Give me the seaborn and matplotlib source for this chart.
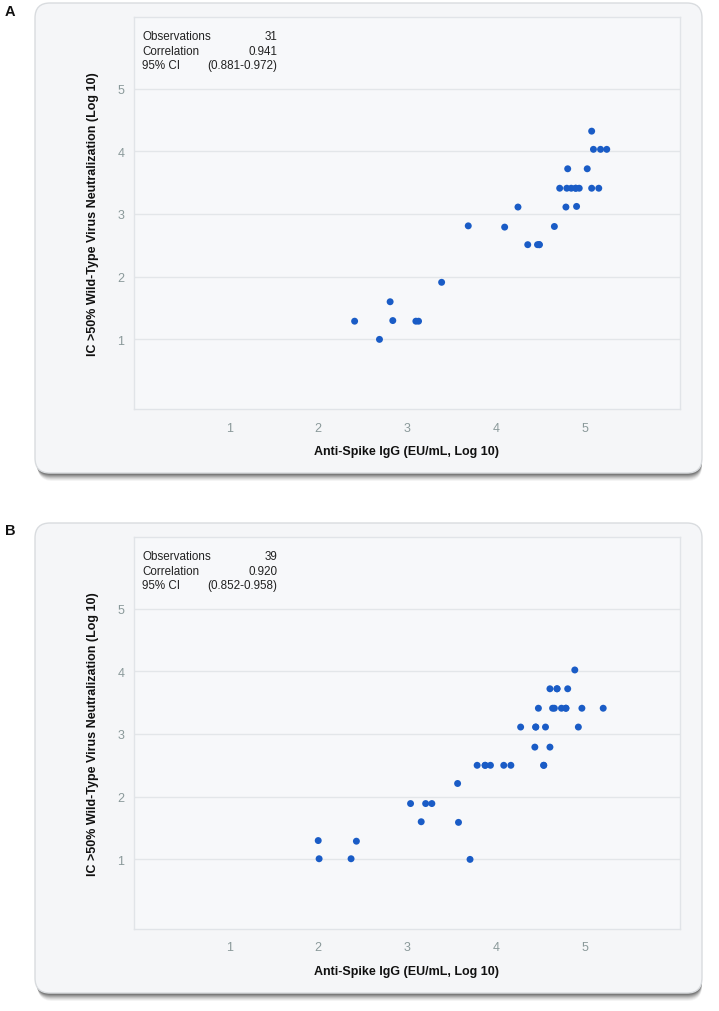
import numpy as np
import pandas as pd
import matplotlib
matplotlib.use("Agg")
import matplotlib.pyplot as plt
import seaborn as sns
from matplotlib.patches import FancyBboxPatch

# panel A: anti-spike IgG vs neutralization (log10)
igg_a = [5.08, 5.10, 5.18, 5.25, 4.81, 5.03, 4.72, 4.80, 4.85, 4.90, 4.94, 5.08,
         5.16, 4.79, 4.91, 4.25, 3.69, 4.10, 4.66, 4.36, 4.47, 4.49, 3.39, 2.81,
         2.41, 2.84, 3.10, 3.13, 2.69, 4.90, 4.49]
neut_a = [4.32, 4.03, 4.03, 4.03, 3.72, 3.72, 3.41, 3.41, 3.41, 3.41, 3.41, 3.41,
          3.41, 3.11, 3.12, 3.11, 2.81, 2.79, 2.80, 2.51, 2.51, 2.51, 1.91, 1.60,
          1.29, 1.30, 1.29, 1.29, 1.00, 3.41, 2.51]

# panel B
igg_b = [4.89, 4.61, 4.69, 4.81, 4.48, 4.64, 4.66, 4.74, 4.79, 4.97, 5.21, 4.28,
         4.45, 4.56, 4.93, 4.44, 4.61, 4.54, 3.79, 3.88, 3.94, 4.09, 4.17, 3.57,
         3.04, 3.21, 3.28, 3.16, 3.58, 2.00, 2.43, 2.01, 2.37, 3.71,
         4.79, 4.69, 4.45, 3.88, 4.54]
neut_b = [4.02, 3.72, 3.72, 3.72, 3.41, 3.41, 3.41, 3.41, 3.41, 3.41, 3.41, 3.11,
          3.11, 3.11, 3.11, 2.79, 2.79, 2.50, 2.50, 2.50, 2.50, 2.50, 2.50, 2.21,
          1.89, 1.89, 1.89, 1.60, 1.59, 1.30, 1.29, 1.01, 1.01, 1.00,
          3.41, 3.72, 3.11, 2.50, 2.50]

stats_a = [("Observations", "31"), ("Correlation", "0.941"), ("95% CI", "(0.881-0.972)")]
stats_b = [("Observations", "39"), ("Correlation", "0.920"), ("95% CI", "(0.852-0.958)")]

ticks = [1, 2, 3, 4, 5]
xlab = "Anti-Spike IgG (EU/mL, Log 10)"
ylab = "IC >50% Wild-Type Virus Neutralization (Log 10)"

sns.set_theme(style="white")
plt.rcParams["font.family"] = ["Liberation Sans", "DejaVu Sans"]
narrow = ["Liberation Sans Narrow", "Liberation Sans", "DejaVu Sans"]

W, H = 719, 1012
fig = plt.figure(figsize=(W / 100, H / 100), dpi=100)
fig.patch.set_facecolor("white")
px = fig.dpi_scale_trans  # inches


def card(top, bottom, left=35, right=702):
    y0 = (H - bottom) / 100
    h = (bottom - top) / 100
    x0 = left / 100
    w = (right - left) / 100
    # soft shadow under the card
    for k, a in [(8, 0.05), (7, 0.07), (6, 0.09), (5, 0.12), (4, 0.16), (3, 0.2), (2, 0.25)]:
        sh = FancyBboxPatch((x0 + k / 300, y0 - k / 100), w - k / 300, h,
                            boxstyle="round,pad=0,rounding_size=0.15",
                            transform=px, facecolor="#333333", edgecolor="none",
                            alpha=a, zorder=-3)
        fig.patches.append(sh)
    box = FancyBboxPatch((x0, y0), w, h, boxstyle="round,pad=0,rounding_size=0.15",
                         transform=px, facecolor="#f5f6f8", edgecolor="#d9dcdf",
                         linewidth=1, zorder=-2)
    fig.patches.append(box)


def panel(top, xs, ys, stats, letter, letter_y):
    bottom = top + 392
    card(top - 14, bottom + 64)
    ax = fig.add_axes([134 / W, (H - bottom) / H, 546 / W, 392 / H])
    ax.set_zorder(2)
    ax.set_facecolor("#f7f8fa")
    df = pd.DataFrame({"x": xs, "y": ys})
    sns.scatterplot(data=df, x="x", y="y", ax=ax, color="#1a5cc6", s=25,
                    edgecolor="none", zorder=3)
    ax.set_xlim(-0.075, 6.075)
    ax.set_ylim(-0.11, 6.14)
    ax.set_xticks(ticks)
    ax.set_yticks(ticks)
    ax.grid(axis="y", color="#e3e6e9", linewidth=1)
    ax.grid(axis="x", visible=False)
    for s in ax.spines.values():
        s.set_color("#e1e4e8")
        s.set_linewidth(1)
    ax.tick_params(axis="x", length=5, width=1, color="#dcdfe2", direction="out",
                   pad=4, labelsize=9, labelcolor="#8a999a")
    ax.tick_params(axis="y", length=0, pad=7, labelsize=9, labelcolor="#8a999a")
    ax.set_xlabel("")
    ax.set_ylabel("")
    ax.text(0.5, -0.107, xlab, transform=ax.transAxes, ha="center", va="center",
            fontsize=9, fontweight="bold", color="#111111", family=narrow)
    ax.text(-0.075, 0.5, ylab, transform=ax.transAxes, ha="center", va="center",
            rotation=90, fontsize=9, fontweight="bold", color="#111111", family=narrow)
    for i, (k, v) in enumerate(stats):
        yy = 0.951 - i * 0.0365
        ax.text(0.0147, yy, k, transform=ax.transAxes, ha="left", va="center",
                fontsize=8.4, color="#222222")
        ax.text(0.262, yy, v, transform=ax.transAxes, ha="right", va="center",
                fontsize=8.4, color="#222222")
    fig.text(10 / W, 1 - letter_y / H, letter, ha="center", va="center",
             fontsize=10.5, fontweight="bold", color="#111111")
    return ax


panel(18, igg_a, neut_a, stats_a, "A", 12)
panel(538, igg_b, neut_b, stats_b, "B", 531)

fig.savefig("out.png", dpi=100, facecolor="white")
